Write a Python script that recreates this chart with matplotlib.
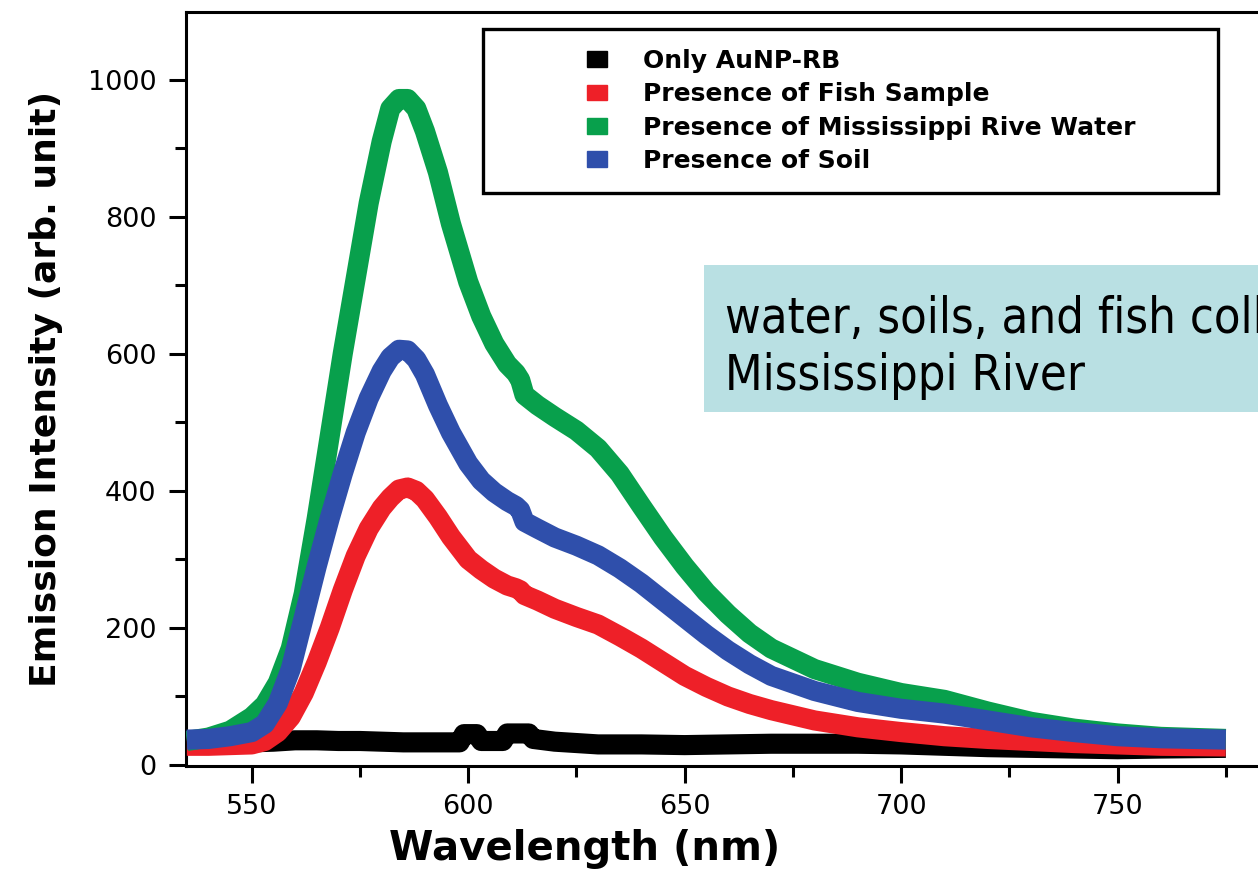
import matplotlib.pyplot as plt
import matplotlib.patches as mpatches
from matplotlib.ticker import MultipleLocator

# wavelength grid (nm) for the coloured spectra
wl = [535, 540, 545, 550, 553, 556, 559, 562, 565, 568, 571, 574, 577, 580, 582,
      584, 586, 588, 590, 593, 596, 600, 603, 606, 609, 611, 612, 613, 616, 620,
      625, 630, 635, 640, 645, 650, 655, 660, 665, 670, 680, 690, 700, 710, 720,
      730, 740, 750, 760, 775]

fish = [28, 28, 29, 30, 35, 48, 70, 105, 150, 200, 255, 305, 345, 375, 390,
        402, 405, 400, 388, 362, 333, 300, 285, 272, 262, 258, 255, 248, 240, 228,
        216, 205, 188, 170, 150, 130, 114, 100, 89, 80, 65, 55, 48, 42, 38,
        35, 32, 30, 28, 27]

river = [35, 40, 50, 70, 88, 120, 170, 250, 360, 480, 600, 710, 820, 910, 958,
         972, 972, 958, 925, 865, 790, 705, 655, 615, 585, 572, 562, 540, 525, 508,
         488, 462, 425, 378, 332, 290, 252, 220, 192, 170, 140, 120, 105, 95, 78,
         63, 53, 46, 41, 38]

soil = [37, 38, 42, 48, 60, 90, 140, 215, 290, 360, 425, 485, 535, 575, 595,
        606, 605, 592, 570, 525, 485, 440, 415, 398, 385, 378, 372, 355, 345, 332,
        320, 306, 287, 265, 240, 215, 190, 167, 147, 130, 108, 92, 82, 75, 65,
        55, 48, 42, 39, 37]

# bare AuNP-RB baseline
wl_bare = [535, 540, 545, 550, 555, 560, 565, 570, 575, 580, 585, 590, 595, 598,
           599, 602, 603, 608, 609, 614, 615, 620, 625, 630, 640, 650, 660, 670,
           680, 690, 700, 710, 720, 730, 740, 750, 760, 775]
bare = [30, 32, 33, 33, 34, 36, 36, 35, 35, 34, 33, 33, 33, 33,
        45, 45, 35, 35, 46, 46, 38, 34, 32, 30, 30, 29, 30, 31,
        31, 31, 30, 28, 26, 25, 24, 23, 24, 25]

labels = ['Only AuNP-RB', 'Presence of Fish Sample',
          'Presence of Mississippi Rive Water', 'Presence of Soil']
colors = ['#000000', '#ee2028', '#08a04c', '#2f4fab']

W, H = 1258, 874
fig = plt.figure(figsize=(W / 100, H / 100), dpi=100)
ax = fig.add_axes([186 / W, 108 / H, 1148 / W, 754 / H])

lw = 14.5
ax.plot(wl_bare, bare, color=colors[0], lw=lw, solid_capstyle='butt',
        solid_joinstyle='round', zorder=2)
ax.plot(wl, fish, color=colors[1], lw=lw, solid_capstyle='butt',
        solid_joinstyle='round', zorder=3)
ax.plot(wl, river, color=colors[2], lw=lw, solid_capstyle='butt',
        solid_joinstyle='round', zorder=4)
ax.plot(wl, soil, color=colors[3], lw=lw, solid_capstyle='butt',
        solid_joinstyle='round', zorder=5)

ax.set_xlim(534.8, 800)
ax.set_ylim(-1.5, 1099)
ax.xaxis.set_major_locator(MultipleLocator(50))
ax.xaxis.set_minor_locator(MultipleLocator(25))
ax.yaxis.set_major_locator(MultipleLocator(200))
ax.yaxis.set_minor_locator(MultipleLocator(100))
ax.tick_params(which='both', direction='out', width=2.2, labelsize=19.5)
ax.tick_params(which='major', length=12.5)
ax.tick_params(which='minor', length=8)
ax.tick_params(axis='y', pad=9)
ax.tick_params(axis='x', pad=8)
for s in ax.spines.values():
    s.set_linewidth(2.2)

ax.set_xlabel('Wavelength (nm)', fontsize=29, fontweight='bold')
ax.xaxis.set_label_coords((585 - 186) / 1148, -0.084)
ax.set_ylabel('Emission Intensity (arb. unit)', fontsize=26, fontweight='bold', labelpad=18)

# legend box drawn by hand (wide left margin in the original)
frame = mpatches.Rectangle((483 / W, 1 - 193 / H), (1218 - 483) / W, (193 - 29) / H,
                           transform=fig.transFigure, facecolor='white',
                           edgecolor='black', lw=2.4, zorder=10)
fig.patches.append(frame)
handles = [mpatches.Patch(color=c) for c in colors]
leg = fig.legend(handles, labels, loc='upper left', bbox_to_anchor=(587 / W, 1 - 49 / H),
                 frameon=False, prop={'weight': 'bold', 'size': 18},
                 handlelength=0.78, handleheight=0.6, handletextpad=1.45,
                 labelspacing=0.37, borderpad=0, borderaxespad=0)
leg.set_zorder(11)

# annotation box on the right
box = mpatches.Rectangle((704 / W, 1 - 412 / H), 600 / W, (412 - 265) / H,
                         transform=fig.transFigure, facecolor='#b9e0e3',
                         edgecolor='none', zorder=10)
fig.patches.append(box)
fig.text(725 / W, 1 - 333 / H, 'water, soils, and fish collected from',
         family='DejaVu Sans', fontstretch='condensed', fontsize=35,
         va='baseline', ha='left', zorder=12)
fig.text(725 / W, 1 - 390 / H, 'Mississippi River',
         family='DejaVu Sans', fontstretch='condensed', fontsize=35,
         va='baseline', ha='left', zorder=12)

fig.savefig('out.png', dpi=100)
